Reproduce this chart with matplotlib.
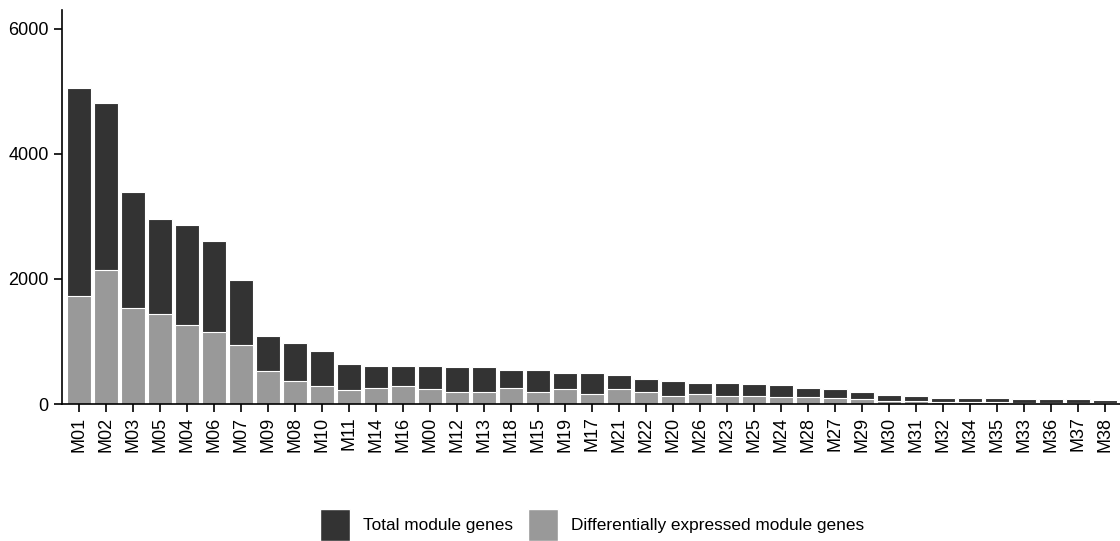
import numpy as np
import matplotlib
matplotlib.use("Agg")
import matplotlib.pyplot as plt
from matplotlib.patches import Patch

plt.rcParams['font.family'] = ['Liberation Sans', 'DejaVu Sans']

modules = ['M01', 'M02', 'M03', 'M05', 'M04', 'M06', 'M07', 'M09', 'M08', 'M10',
           'M11', 'M14', 'M16', 'M00', 'M12', 'M13', 'M18', 'M15', 'M19', 'M17',
           'M21', 'M22', 'M20', 'M26', 'M23', 'M25', 'M24', 'M28', 'M27', 'M29',
           'M30', 'M31', 'M32', 'M34', 'M35', 'M33', 'M36', 'M37', 'M38']

total_genes = [5045, 4815, 3390, 2960, 2860, 2600, 1980, 1095, 975, 845,
               640, 615, 613, 600, 595, 588, 545, 542, 500, 490,
               462, 400, 375, 342, 330, 322, 305, 255, 238, 185,
               152, 125, 100, 92, 92, 88, 88, 78, 68]

de_genes = [1735, 2150, 1530, 1445, 1262, 1150, 948, 525, 365, 295,
            228, 260, 282, 245, 200, 200, 260, 200, 245, 165,
            242, 197, 122, 165, 126, 126, 110, 120, 94, 78,
            56, 42, 30, 26, 26, 22, 20, 16, 12]

dark = '#333333'
light = '#999999'

fig = plt.figure(figsize=(11.2, 5.41), dpi=100)
ax = fig.add_axes([0.0554, 0.2532, 0.9446, 0.7283])

x = np.arange(len(modules))
ax.bar(x, total_genes, width=0.9, color=dark, edgecolor='white', linewidth=0.8)
ax.bar(x, de_genes, width=0.9, color=light, edgecolor='white', linewidth=0.8)

ax.set_xlim(-0.62, len(modules) - 0.45)
ax.set_ylim(0, 6300)
ax.set_yticks([0, 2000, 4000, 6000])
ax.set_xticks(x)
ax.set_xticklabels(modules, rotation=90)

for side in ['top', 'right']:
    ax.spines[side].set_visible(False)
for side in ['left', 'bottom']:
    ax.spines[side].set_linewidth(1.2)
    ax.spines[side].set_color('black')
ax.tick_params(axis='both', length=6, width=1.2, labelsize=13, colors='black')
ax.tick_params(axis='x', pad=3)

# legend under the plot, two square keys side by side
handles = [Patch(facecolor=dark, edgecolor='white', label='Total module genes'),
           Patch(facecolor=light, edgecolor='white',
                 label='Differentially expressed module genes')]
fig.legend(handles=handles, loc='center', bbox_to_anchor=(592 / 1120, 1 - 525 / 541),
           ncol=2, frameon=False, fontsize=12.4, handlelength=1.75, handleheight=2.4,
           handletextpad=0.75, columnspacing=0.9, borderaxespad=0, borderpad=0)

fig.savefig('out.png', dpi=100)
